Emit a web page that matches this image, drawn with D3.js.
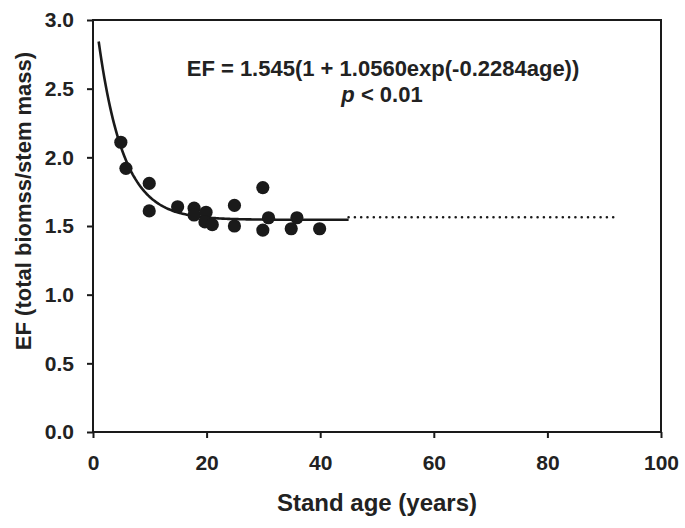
<!DOCTYPE html>
<html>
<head>
<meta charset="utf-8">
<script src="https://cdn.jsdelivr.net/npm/d3@7"></script>
<style>
  body { margin: 0; background: #fff; }
  svg { display: block; font-family: "Liberation Sans", Arial, sans-serif; font-weight: bold; }
  .axis text { fill: #222; font-size: 21px; font-weight: bold; }
  .axis line { stroke: #1a1a1a; stroke-width: 2px; }
  .axis path { display: none; }
</style>
</head>
<body>
<svg id="svg" width="685" height="528"></svg>
<script>
const ages = [4.9, 5.8, 9.9, 9.9, 14.9, 17.8, 17.8, 19.9, 19.7, 21.0, 24.9, 24.9, 29.9, 29.9, 30.9, 34.9, 35.9, 39.9];
const efValues = [2.11, 1.92, 1.81, 1.61, 1.64, 1.63, 1.58, 1.60, 1.53, 1.51, 1.65, 1.50, 1.78, 1.47, 1.56, 1.48, 1.56, 1.48];

// Fitted model EF = a(1 + b exp(c age)), as printed on the chart
const fitA = 1.545, fitB = 1.0560, fitC = -0.2284;
const fitRange = [1, 45];      // solid part (observed range)
const extrapRange = [45, 92];  // dotted extrapolation

const xTicks = [0, 20, 40, 60, 80, 100];
const yTicks = [0, 0.5, 1.0, 1.5, 2.0, 2.5, 3.0];

const svg = d3.select("#svg");
const x = d3.scaleLinear().domain([0, 100]).range([93, 661]);
const y = d3.scaleLinear().domain([0, 3]).range([432, 20]);

const fit = a => fitA * (1 + fitB * Math.exp(fitC * a));
const sample = ([a0, a1]) => d3.range(a0, a1 + 0.001, 0.25).map(a => [a, fit(a)]);
const line = d3.line().x(d => x(d[0])).y(d => y(d[1]));

// Axes
svg.append("g").attr("class", "axis")
    .attr("transform", `translate(0,${y(0)})`)
    .call(d3.axisBottom(x).tickValues(xTicks).tickSizeInner(6).tickSizeOuter(0).tickPadding(17)
        .tickFormat(d3.format("d")));

svg.append("g").attr("class", "axis")
    .attr("transform", `translate(${x(0)},0)`)
    .call(d3.axisLeft(y).tickValues(yTicks).tickSizeInner(6).tickSizeOuter(0).tickPadding(13)
        .tickFormat(d3.format(".1f")));

// Frame
svg.append("rect")
    .attr("x", x(0)).attr("y", y(3))
    .attr("width", x(100) - x(0)).attr("height", y(0) - y(3))
    .attr("fill", "none").attr("stroke", "#1a1a1a").attr("stroke-width", 2);

// Fitted curve
svg.append("path")
    .datum(sample(fitRange))
    .attr("d", line)
    .attr("fill", "none").attr("stroke", "#1a1a1a").attr("stroke-width", 2.6);

svg.append("path")
    .datum(sample(extrapRange))
    .attr("d", line)
    .attr("transform", "translate(0,-2.5)")
    .attr("fill", "none").attr("stroke", "#1a1a1a").attr("stroke-width", 2.6)
    .attr("stroke-linecap", "round").attr("stroke-dasharray", "0,6.3");

// Observations
svg.append("g").selectAll("circle")
    .data(ages.map((a, i) => [a, efValues[i]]))
    .join("circle")
    .attr("cx", d => x(d[0])).attr("cy", d => y(d[1]))
    .attr("r", 6.6).attr("fill", "#1a1a1a");

// Equation
svg.append("text")
    .attr("x", 383).attr("y", 76)
    .attr("text-anchor", "middle").attr("font-size", 22).attr("fill", "#222")
    .text("EF = 1.545(1 + 1.0560exp(-0.2284age))");

const pText = svg.append("text")
    .attr("x", 382).attr("y", 102)
    .attr("text-anchor", "middle").attr("font-size", 22).attr("fill", "#222");
pText.append("tspan").attr("font-style", "italic").text("p");
pText.append("tspan").text(" < 0.01");

// Axis titles
svg.append("text")
    .attr("x", (x(0) + x(100)) / 2).attr("y", 511)
    .attr("text-anchor", "middle").attr("font-size", 24).attr("fill", "#222")
    .text("Stand age (years)");

svg.append("text")
    .attr("transform", `translate(31,201) rotate(-90)`)
    .attr("text-anchor", "middle").attr("font-size", 22).attr("fill", "#222")
    .text("EF (total biomss/stem mass)");
</script>
</body>
</html>
